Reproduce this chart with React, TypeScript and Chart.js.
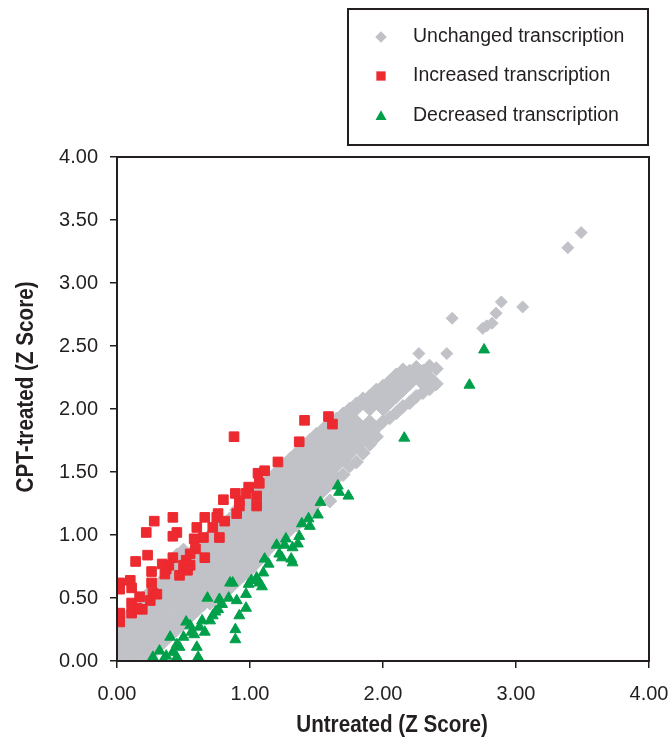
import React, { useEffect, useRef } from 'react';
import { Chart, registerables } from 'chart.js';

Chart.register(...registerables);

// ---------- data ----------
const xTickValues = [0, 1, 2, 3, 4];
const yTickValues = [0, 0.5, 1, 1.5, 2, 2.5, 3, 3.5, 4];
const xTitle = 'Untreated (Z Score)';
const yTitle = 'CPT-treated (Z Score)';
const seriesLabels = ['Unchanged transcription', 'Increased transcription', 'Decreased transcription'];

// Unchanged genes: dense band, listed column by column (x, list of y)
const unchangedBand: [number, number[]][] = [
  [0.00, [0.00, 0.10, 0.20]],
  [0.05, [0.05, 0.15, 0.25, 0.32]],
  [0.10, [0.00, 0.10, 0.20, 0.30, 0.38]],
  [0.15, [0.05, 0.15, 0.25, 0.35, 0.44]],
  [0.20, [0.00, 0.10, 0.20, 0.30, 0.40, 0.50]],
  [0.25, [0.05, 0.15, 0.25, 0.35, 0.45, 0.55]],
  [0.30, [0.10, 0.20, 0.30, 0.40, 0.50, 0.60]],
  [0.35, [0.15, 0.25, 0.35, 0.45, 0.55, 0.65]],
  [0.40, [0.20, 0.30, 0.40, 0.50, 0.60, 0.70]],
  [0.45, [0.25, 0.35, 0.45, 0.55, 0.65, 0.75, 0.84]],
  [0.50, [0.30, 0.40, 0.50, 0.60, 0.70, 0.80, 0.88]],
  [0.55, [0.35, 0.45, 0.55, 0.65, 0.75, 0.85]],
  [0.60, [0.40, 0.50, 0.60, 0.70, 0.80, 0.90]],
  [0.65, [0.45, 0.55, 0.65, 0.75, 0.85, 0.95]],
  [0.70, [0.46, 0.50, 0.60, 0.70, 0.80, 0.90, 1.00]],
  [0.75, [0.55, 0.65, 0.75, 0.85, 0.95, 1.05]],
  [0.80, [0.54, 0.60, 0.70, 0.80, 0.90, 1.00, 1.08]],
  [0.85, [0.58, 0.65, 0.75, 0.85, 0.95, 1.05, 1.13]],
  [0.90, [0.63, 0.70, 0.80, 0.90, 1.00, 1.10, 1.20]],
  [0.95, [0.68, 0.75, 0.85, 0.95, 1.05, 1.15, 1.25]],
  [1.00, [0.72, 0.80, 0.90, 1.00, 1.10, 1.20, 1.30]],
  [1.05, [0.78, 0.85, 0.95, 1.05, 1.15, 1.25, 1.35]],
  [1.10, [0.84, 0.90, 1.00, 1.10, 1.20, 1.30, 1.40]],
  [1.15, [0.90, 0.95, 1.05, 1.15, 1.25, 1.35, 1.45]],
  [1.20, [0.95, 1.00, 1.10, 1.20, 1.30, 1.40, 1.50]],
  [1.25, [0.99, 1.05, 1.15, 1.25, 1.35, 1.45, 1.55]],
  [1.30, [1.04, 1.10, 1.20, 1.30, 1.40, 1.50, 1.60]],
  [1.35, [1.08, 1.15, 1.25, 1.35, 1.45, 1.55, 1.65]],
  [1.40, [1.13, 1.20, 1.30, 1.40, 1.50, 1.60, 1.70]],
  [1.45, [1.19, 1.25, 1.35, 1.45, 1.55, 1.65, 1.75]],
  [1.50, [1.25, 1.30, 1.40, 1.50, 1.60, 1.70, 1.80]],
  [1.55, [1.35, 1.45, 1.55, 1.65, 1.75, 1.84]],
  [1.60, [1.27, 1.40, 1.50, 1.60, 1.70, 1.80, 1.88]],
  [1.65, [1.45, 1.55, 1.65, 1.75, 1.85, 1.92]],
  [1.70, [1.48, 1.60, 1.70, 1.80, 1.90, 1.96]],
  [1.75, [1.55, 1.65, 1.75, 1.85, 1.95, 2.00]],
  [1.80, [1.58, 1.70, 1.80, 1.90, 2.00, 2.04]],
  [1.85, [1.65, 1.75, 1.85, 2.05, 2.08]],
  [1.90, [1.72, 1.80, 1.90, 2.00, 2.10]],
  [1.95, [1.78, 1.85, 2.05, 2.15]],
  [2.00, [1.90, 2.00, 2.10, 2.18]],
  [2.05, [1.93, 2.05, 2.15, 2.22]],
  [2.10, [1.97, 2.10, 2.20, 2.27]],
  [2.15, [2.02, 2.15, 2.25, 2.31]],
  [2.20, [2.05, 2.20, 2.30]],
  [2.25, [2.10, 2.25, 2.33]],
  [2.30, [2.13, 2.20, 2.30]],
  [2.35, [2.16, 2.25, 2.34]],
  [2.40, [2.20, 2.32]],
];

const unchangedOutliers: [number, number][] = [
  [2.27, 2.44], [2.48, 2.44], [2.52, 2.72], [2.75, 2.64], [2.78, 2.66], [2.82, 2.68],
  [2.85, 2.76], [2.89, 2.85], [3.05, 2.81], [3.39, 3.28], [3.49, 3.40],
];

const increased: [number, number][] = [
  [1.59, 1.94], [1.62, 1.88], [1.41, 1.91], [0.88, 1.78], [1.37, 1.74], [1.21, 1.58],
  [1.06, 1.49], [1.11, 1.51], [1.07, 1.41], [0.99, 1.38], [0.97, 1.33], [1.05, 1.31],
  [1.05, 1.23], [0.89, 1.33], [0.92, 1.27], [0.92, 1.23], [0.90, 1.17], [0.80, 1.28],
  [0.76, 1.17], [0.75, 1.14], [0.81, 1.11], [0.66, 1.14], [0.72, 1.06], [0.77, 0.98],
  [0.60, 1.06], [0.65, 0.98], [0.58, 0.97], [0.42, 1.14], [0.45, 1.02], [0.42, 0.99],
  [0.28, 1.11], [0.22, 1.02], [0.66, 0.82], [0.59, 0.89], [0.55, 0.85], [0.52, 0.80],
  [0.55, 0.76], [0.50, 0.76], [0.42, 0.82], [0.53, 0.72], [0.47, 0.68], [0.37, 0.73],
  [0.39, 0.76], [0.34, 0.77], [0.36, 0.69], [0.23, 0.84], [0.14, 0.79], [0.26, 0.71],
  [0.26, 0.62], [0.27, 0.54], [0.25, 0.48], [0.30, 0.53], [0.17, 0.51], [0.10, 0.64],
  [0.11, 0.58], [0.02, 0.62], [0.02, 0.57], [0.11, 0.46], [0.11, 0.38], [0.19, 0.41],
  [0.15, 0.42], [0.02, 0.38], [0.02, 0.31],
];

const decreased: [number, number][] = [
  [1.66, 1.39], [1.67, 1.34], [1.74, 1.31], [1.53, 1.26], [1.51, 1.16], [1.44, 1.13],
  [1.45, 1.07], [1.39, 1.09], [1.37, 0.99], [1.36, 0.93], [1.32, 0.90], [1.27, 0.97],
  [1.26, 0.92], [1.20, 0.92], [1.22, 0.85], [1.31, 0.81], [1.32, 0.78], [1.24, 0.82],
  [1.11, 0.81], [1.14, 0.77], [1.10, 0.70], [1.05, 0.66], [1.07, 0.62], [1.01, 0.64],
  [0.99, 0.61], [1.09, 0.59], [0.97, 0.53], [0.87, 0.62], [0.90, 0.48], [0.84, 0.50],
  [0.79, 0.45], [0.76, 0.41], [0.72, 0.36], [0.70, 0.32], [0.64, 0.32], [0.97, 0.42],
  [0.92, 0.36], [0.89, 0.25], [0.89, 0.17], [0.68, 0.50], [0.66, 0.23], [0.62, 0.27],
  [0.58, 0.21], [0.55, 0.28], [0.52, 0.31], [0.56, 0.23], [0.60, 0.11], [0.61, 0.03],
  [0.47, 0.11], [0.45, 0.13], [0.40, 0.19], [0.42, 0.07], [0.37, 0.04], [0.32, 0.08],
  [0.27, 0.03], [0.35, 0.01], [0.45, 0.03], [0.50, 0.19], [0.74, 0.39], [0.77, 0.49],
  [0.85, 0.62], [2.16, 1.77], [2.65, 2.19], [2.76, 2.47],
];

// ---------- styles ----------
const INK = '#231f20';
const GRAY = '#c0c2c7';
const RED = '#ec2a30';
const GREEN = '#00a04b';
const FONT = '"Liberation Sans", Arial, Helvetica, sans-serif';

const toPts = (arr: [number, number][]) => arr.map(([x, y]) => ({ x, y }));

function drawMarker(ctx: CanvasRenderingContext2D, style: string, x: number, y: number, r: number) {
  ctx.beginPath();
  if (style === 'rectRot') {
    ctx.moveTo(x - r, y);
    ctx.lineTo(x, y - r);
    ctx.lineTo(x + r, y);
    ctx.lineTo(x, y + r);
  } else if (style === 'rect') {
    const s = r * 0.8;
    ctx.rect(x - s, y - s, 2 * s, 2 * s);
  } else {
    ctx.moveTo(x, y - r);
    ctx.lineTo(x + r * 0.95, y + r * 0.7);
    ctx.lineTo(x - r * 0.95, y + r * 0.7);
  }
  ctx.closePath();
  ctx.fill();
}

const framePlugin = {
  id: 'plotFrame',
  afterDatasetsDraw(chart: any) {
    const { ctx, chartArea: a } = chart;
    ctx.save();
    ctx.strokeStyle = INK;
    ctx.lineWidth = 2;
    ctx.strokeRect(a.left, a.top, a.right - a.left, a.bottom - a.top);
    ctx.restore();
  },
};

// axis titles, drawn in a condensed bold face
const titlePlugin = {
  id: 'axisTitles',
  afterDraw(chart: any) {
    const ctx: CanvasRenderingContext2D = chart.ctx;
    ctx.save();
    ctx.fillStyle = INK;
    ctx.font = `bold 24px ${FONT}`;
    ctx.textAlign = 'center';
    ctx.textBaseline = 'middle';
    ctx.save();
    ctx.translate(392, 725);
    ctx.scale(0.86, 1);
    ctx.fillText(xTitle, 0, 0);
    ctx.restore();
    ctx.save();
    ctx.translate(26, 387);
    ctx.rotate(-Math.PI / 2);
    ctx.scale(0.86, 1);
    ctx.fillText(yTitle, 0, 0);
    ctx.restore();
    ctx.restore();
  },
};

const legendPlugin = {
  id: 'boxedLegend',
  afterDraw(chart: any) {
    const ctx: CanvasRenderingContext2D = chart.ctx;
    ctx.save();
    ctx.strokeStyle = INK;
    ctx.lineWidth = 2;
    ctx.strokeRect(348, 9, 300, 136);
    const rows = [37, 76, 116];
    chart.data.datasets.forEach((ds: any, i: number) => {
      const y = rows[i];
      ctx.fillStyle = ds.backgroundColor;
      drawMarker(ctx, ds.pointStyle, 381, y, 5.8);
      ctx.fillStyle = INK;
      ctx.font = `19.5px ${FONT}`;
      ctx.textAlign = 'left';
      ctx.textBaseline = 'middle';
      ctx.fillText(ds.label, 413, y);
    });
    ctx.restore();
  },
};

export default function App() {
  const ref = useRef<HTMLCanvasElement | null>(null);

  useEffect(() => {
    if (!ref.current) return;
    const grayPts: { x: number; y: number }[] = [];
    unchangedBand.forEach(([x, ys]) => ys.forEach((y) => grayPts.push({ x, y })));
    const bandCount = grayPts.length;
    unchangedOutliers.forEach(([x, y]) => grayPts.push({ x, y }));

    const chart = new Chart(ref.current, {
      type: 'scatter',
      data: {
        datasets: [
          {
            label: seriesLabels[0],
            data: grayPts,
            pointStyle: 'rectRot',
            pointRadius: (c: any) => (c.dataIndex < bandCount ? 7 : 6),
            borderWidth: 1,
            backgroundColor: GRAY,
            borderColor: GRAY,
            order: 3,
            clip: 0,
          },
          {
            label: seriesLabels[1],
            data: toPts(increased),
            pointStyle: 'rect',
            pointRadius: 6.8,
            borderWidth: 1,
            backgroundColor: RED,
            borderColor: RED,
            order: 2,
            clip: 0,
          },
          {
            label: seriesLabels[2],
            data: toPts(decreased),
            pointStyle: 'triangle',
            pointRadius: 6.3,
            borderWidth: 1,
            backgroundColor: GREEN,
            borderColor: GREEN,
            order: 1,
            clip: 0,
          },
        ] as any,
      },
      options: {
        animation: false,
        responsive: false,
        devicePixelRatio: 1,
        layout: { padding: { top: 157, right: 19, bottom: 0, left: 0 } },
        plugins: { legend: { display: false }, tooltip: { enabled: false } },
        scales: {
          x: {
            type: 'linear',
            min: 0,
            max: 4,
            afterFit: (s: any) => { s.height = 78; s.paddingLeft = 0; s.paddingRight = 0; },
            afterBuildTicks: (s: any) => { s.ticks = xTickValues.map((v) => ({ value: v })); },
            ticks: {
              color: INK,
              font: { family: FONT, size: 20 },
              padding: 14,
              callback: (v: any) => Number(v).toFixed(2),
            },
            grid: { drawOnChartArea: false, drawTicks: true, tickLength: 7, color: INK, lineWidth: 1.5 },
            border: { display: false },
            title: { display: false },
          },
          y: {
            type: 'linear',
            min: 0,
            max: 4,
            afterFit: (s: any) => { s.width = 117; s.paddingTop = 0; s.paddingBottom = 0; },
            afterBuildTicks: (s: any) => { s.ticks = yTickValues.map((v) => ({ value: v })); },
            ticks: {
              color: INK,
              font: { family: FONT, size: 20 },
              padding: 12,
              callback: (v: any) => Number(v).toFixed(2),
            },
            grid: { drawOnChartArea: false, drawTicks: true, tickLength: 7, color: INK, lineWidth: 1.5 },
            border: { display: false },
            title: { display: false },
          },
        },
      },
      plugins: [framePlugin, titlePlugin, legendPlugin],
    } as any);
    return () => chart.destroy();
  }, []);

  return (
    <div style={{ position: 'absolute', left: 0, top: 0, width: 668, height: 739, background: '#fff' }}>
      <canvas ref={ref} width={668} height={739} style={{ display: 'block' }} />
    </div>
  );
}
